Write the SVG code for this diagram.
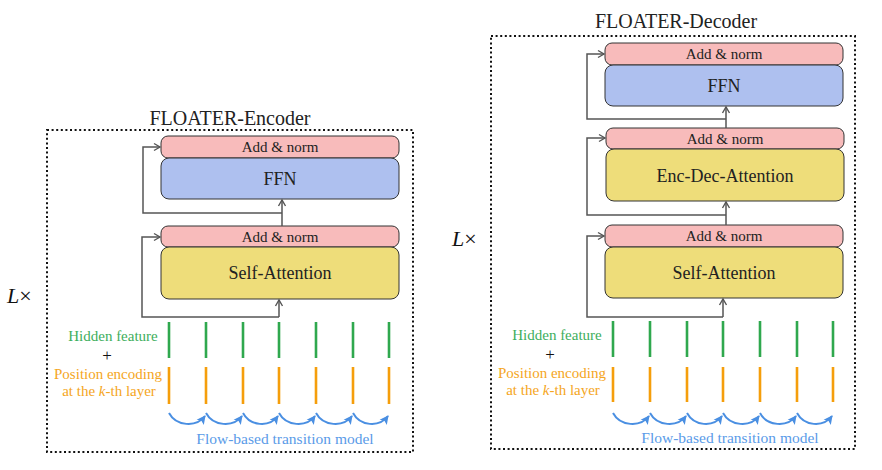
<svg xmlns="http://www.w3.org/2000/svg" width="882" height="470" viewBox="0 0 882 470">
<style>
text{font-family:"Liberation Serif","Times New Roman",serif;fill:#222}
.frame{fill:none;stroke:#111;stroke-width:2;stroke-dasharray:2 2.6}
.an{fill:#F8BBBB;stroke:#333;stroke-width:1}
.ffn{fill:#AEC0EF;stroke:#333;stroke-width:1}
.att{fill:#EEDD7A;stroke:#333;stroke-width:1}
.s{font-size:15px;text-anchor:middle}
.b{font-size:18px;text-anchor:middle}
.t{font-size:20px;text-anchor:middle}
.res{fill:none;stroke:#555;stroke-width:1.5}
.g{stroke:#2FA84E;stroke-width:2.6}
.o{stroke:#F59E0B;stroke-width:2.6}
.flow{fill:none;stroke:#4A8FE2;stroke-width:2}
.gl{fill:#3DAE5C;font-size:15px;text-anchor:middle}
.ol{fill:#F5A623;font-size:15px;text-anchor:middle}
.fl{fill:#5A9BE8;font-size:15.5px;text-anchor:middle}
.lx{font-size:22px;fill:#111}
.plus{font-size:17px;text-anchor:middle;fill:#111}
</style>
<defs>
<marker id="oa" markerUnits="userSpaceOnUse" markerWidth="12" markerHeight="12" refX="0" refY="0" viewBox="-8 -6 10 12" orient="auto">
<path d="M-6,-3.5 L0,0 L-6,3.5" fill="none" stroke="#555" stroke-width="1.4"/>
</marker>
<marker id="fa" markerUnits="userSpaceOnUse" markerWidth="14" markerHeight="14" refX="0" refY="0" viewBox="-10 -7 12 14" orient="auto">
<path d="M-8,-4.5 L1,0 L-8,4.5 L-6,0 Z" fill="#4A8FE2"/>
</marker>
</defs>

<!-- Encoder -->
<g id="encoder-frame">
<rect class="frame" x="47" y="130" width="366" height="322"/>
<text class="t" x="230" y="125">FLOATER-Encoder</text>
<text class="lx" x="7" y="303"><tspan font-style="italic">L</tspan>×</text>
</g>
<g id="enc-addnorm2">
<rect class="an" x="161" y="136" width="238" height="22" rx="7"/>
<text class="s" x="280" y="152">Add &amp; norm</text>
</g>
<g id="enc-ffn">
<rect class="ffn" x="161" y="158" width="238" height="41" rx="8"/>
<text class="b" x="280" y="185">FFN</text>
</g>
<g id="enc-addnorm1">
<rect class="an" x="161" y="226" width="238" height="21" rx="7"/>
<text class="s" x="280" y="242">Add &amp; norm</text>
</g>
<g id="enc-selfatt">
<rect class="att" x="161" y="247" width="238" height="52" rx="8"/>
<text class="b" x="280" y="279">Self-Attention</text>
</g>
<g id="enc-inputs">
<g class="g">
<line x1="169" y1="322" x2="169" y2="358"/><line x1="206" y1="322" x2="206" y2="358"/><line x1="243" y1="322" x2="243" y2="358"/><line x1="279" y1="322" x2="279" y2="358"/><line x1="316" y1="322" x2="316" y2="358"/><line x1="353" y1="322" x2="353" y2="358"/><line x1="389" y1="322" x2="389" y2="358"/>
</g>
<g class="o">
<line x1="169" y1="367" x2="169" y2="404"/><line x1="206" y1="367" x2="206" y2="404"/><line x1="243" y1="367" x2="243" y2="404"/><line x1="279" y1="367" x2="279" y2="404"/><line x1="316" y1="367" x2="316" y2="404"/><line x1="353" y1="367" x2="353" y2="404"/><line x1="389" y1="367" x2="389" y2="404"/>
</g>
<text class="gl" x="113" y="341">Hidden feature</text>
<text class="plus" x="107" y="361">+</text>
<text class="ol" x="108" y="379">Position encoding</text>
<text class="ol" x="109" y="396">at the <tspan font-style="italic">k</tspan>-th layer</text>
<text class="fl" x="285" y="444">Flow-based transition model</text>
</g>

<!-- Decoder -->
<g id="decoder-frame">
<rect class="frame" x="491" y="36" width="364" height="413"/>
<text class="t" x="676" y="28">FLOATER-Decoder</text>
<text class="lx" x="452" y="246"><tspan font-style="italic">L</tspan>×</text>
</g>
<g id="dec-addnorm3">
<rect class="an" x="605" y="43" width="238" height="22" rx="7"/>
<text class="s" x="724" y="59">Add &amp; norm</text>
</g>
<g id="dec-ffn">
<rect class="ffn" x="605" y="65" width="238" height="41" rx="8"/>
<text class="b" x="724" y="92">FFN</text>
</g>
<g id="dec-addnorm2">
<rect class="an" x="606" y="128" width="238" height="21" rx="7"/>
<text class="s" x="725" y="144">Add &amp; norm</text>
</g>
<g id="dec-encdecatt">
<rect class="att" x="606" y="149" width="238" height="52" rx="8"/>
<text class="b" x="725" y="182">Enc-Dec-Attention</text>
</g>
<g id="dec-addnorm1">
<rect class="an" x="605" y="225" width="238" height="22" rx="7"/>
<text class="s" x="724" y="241">Add &amp; norm</text>
</g>
<g id="dec-selfatt">
<rect class="att" x="605" y="247" width="238" height="51" rx="8"/>
<text class="b" x="724" y="279">Self-Attention</text>
</g>
<g id="dec-inputs">
<g class="g">
<line x1="613" y1="321" x2="613" y2="357"/><line x1="650" y1="321" x2="650" y2="357"/><line x1="687" y1="321" x2="687" y2="357"/><line x1="723" y1="321" x2="723" y2="357"/><line x1="760" y1="321" x2="760" y2="357"/><line x1="797" y1="321" x2="797" y2="357"/><line x1="833" y1="321" x2="833" y2="357"/>
</g>
<g class="o">
<line x1="613" y1="367" x2="613" y2="402"/><line x1="650" y1="367" x2="650" y2="402"/><line x1="687" y1="367" x2="687" y2="402"/><line x1="723" y1="367" x2="723" y2="402"/><line x1="760" y1="367" x2="760" y2="402"/><line x1="797" y1="367" x2="797" y2="402"/><line x1="833" y1="367" x2="833" y2="402"/>
</g>
<text class="gl" x="557" y="340">Hidden feature</text>
<text class="plus" x="550" y="360">+</text>
<text class="ol" x="552" y="378">Position encoding</text>
<text class="ol" x="553" y="395">at the <tspan font-style="italic">k</tspan>-th layer</text>
<text class="fl" x="730" y="443">Flow-based transition model</text>
</g>

<g id="connectors">
<!-- encoder residuals -->
<path class="res" d="M282,226 L282,200" marker-end="url(#oa)"/>
<path class="res" d="M282,213 L143,213 L143,147 L160,147" marker-end="url(#oa)"/>
<path class="res" d="M279,317 L279,300" marker-end="url(#oa)"/>
<path class="res" d="M279,317 L142,317 L142,237 L160,237" marker-end="url(#oa)"/>
<!-- decoder residuals -->
<path class="res" d="M726,128 L726,107" marker-end="url(#oa)"/>
<path class="res" d="M726,119 L587,119 L587,54 L604,54" marker-end="url(#oa)"/>
<path class="res" d="M726,225 L726,202" marker-end="url(#oa)"/>
<path class="res" d="M726,215 L587,215 L587,138 L605,138" marker-end="url(#oa)"/>
<path class="res" d="M723,317 L723,299" marker-end="url(#oa)"/>
<path class="res" d="M723,317 L587,317 L587,236 L604,236" marker-end="url(#oa)"/>
<!-- encoder flow arcs -->
<path class="flow" d="M169,413 C176,426 196,428 205,416" marker-end="url(#fa)"/>
<path class="flow" d="M206,413 C213,426 233,428 242,416" marker-end="url(#fa)"/>
<path class="flow" d="M243,413 C250,426 269,428 278,416" marker-end="url(#fa)"/>
<path class="flow" d="M279,413 C286,426 306,428 315,416" marker-end="url(#fa)"/>
<path class="flow" d="M316,413 C323,426 343,428 352,416" marker-end="url(#fa)"/>
<path class="flow" d="M353,413 C360,426 379,428 388,416" marker-end="url(#fa)"/>
<!-- decoder flow arcs -->
<path class="flow" d="M613,413 C620,426 640,428 649,416" marker-end="url(#fa)"/>
<path class="flow" d="M650,413 C657,426 677,428 686,416" marker-end="url(#fa)"/>
<path class="flow" d="M687,413 C694,426 713,428 722,416" marker-end="url(#fa)"/>
<path class="flow" d="M723,413 C730,426 750,428 759,416" marker-end="url(#fa)"/>
<path class="flow" d="M760,413 C767,426 787,428 796,416" marker-end="url(#fa)"/>
<path class="flow" d="M797,413 C804,426 823,428 832,416" marker-end="url(#fa)"/>
</g>
</svg>
